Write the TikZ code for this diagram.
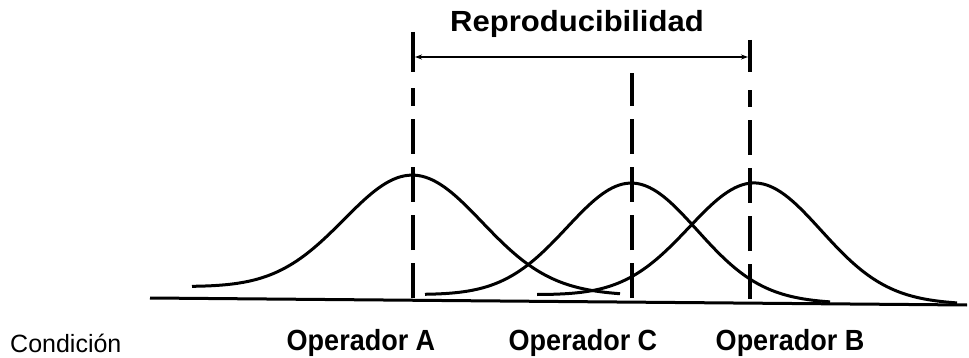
\documentclass[tikz,border=0pt]{standalone}
\usepackage{fontspec}
\setmainfont{Liberation Sans}
\usetikzlibrary{arrows.meta}
\tikzset{
  curve/.style={line width=3pt, line join=round},
  axisline/.style={line width=3pt},
  meanline/.style={line width=3.6pt, dash pattern=on 35pt off 13pt},
  tickline/.style={line width=3.6pt},
  dimline/.style={line width=1.6pt, {Stealth[length=7pt,width=5pt]}-{Stealth[length=7pt,width=5pt]}},
  boldlabel/.style={font=\bfseries\fontsize{27}{30}\selectfont, inner sep=0pt, anchor=base},
  plainlabel/.style={font=\fontsize{25}{28}\selectfont, inner sep=0pt, anchor=base west}
}
\begin{document}
\begin{tikzpicture}[x=1pt,y=-1pt]
\useasboundingbox (0,0) rectangle (969,358);
% axis
\coordinate (axL) at (150,298);
\coordinate (axR) at (967,305);
\draw[axisline] (axL) -- (axR);
% curves
\draw[curve] plot[domain=192:620, samples=120, smooth] (\x, {287 + (\x-192)*8/428 - 116*exp(-((\x-413)/69)^2/2)});
\draw[curve] plot[domain=425:830, samples=120, smooth] (\x, {295 + (\x-425)*8/405 - 116*exp(-((\x-632)/65)^2/2)});
\draw[curve] plot[domain=537:957, samples=120, smooth] (\x, {295 + (\x-537)*9/420 - 116.7*exp(-((\x-755)/66)^2/2)});
% mean lines
\coordinate (aBot) at (413,298);
\coordinate (aTop) at (413,88);
\coordinate (cBot) at (632,298);
\coordinate (cTop) at (632,73);
\coordinate (bBot) at (750,299);
\coordinate (bTop) at (750,90);
\draw[meanline] (aBot) -- (aTop);
\draw[meanline] (cBot) -- (cTop);
\draw[meanline] (bBot) -- (bTop);
% ticks and dimension arrow
\coordinate (aT1) at (413,32);
\coordinate (aT2) at (413,72);
\coordinate (bT1) at (750,40);
\coordinate (bT2) at (750,72);
\draw[tickline] (aT1) -- (aT2);
\draw[tickline] (bT1) -- (bT2);
\coordinate (arL) at (415,57);
\coordinate (arR) at (748,57);
\draw[dimline] (arL) -- (arR);
% labels
\node[boldlabel] (repro) at (577,32) {\scalebox{1.15}[1.08]{Reproducibilidad}};
\node[plainlabel] (cond) at (10,352) {Condición};
\node[boldlabel] (opA) at (361,350) {\scalebox{1}[1.08]{Operador A}};
\node[boldlabel] (opC) at (583,350) {\scalebox{1}[1.08]{Operador C}};
\node[boldlabel] (opB) at (790,350) {\scalebox{1}[1.08]{Operador B}};
\end{tikzpicture}
\end{document}
